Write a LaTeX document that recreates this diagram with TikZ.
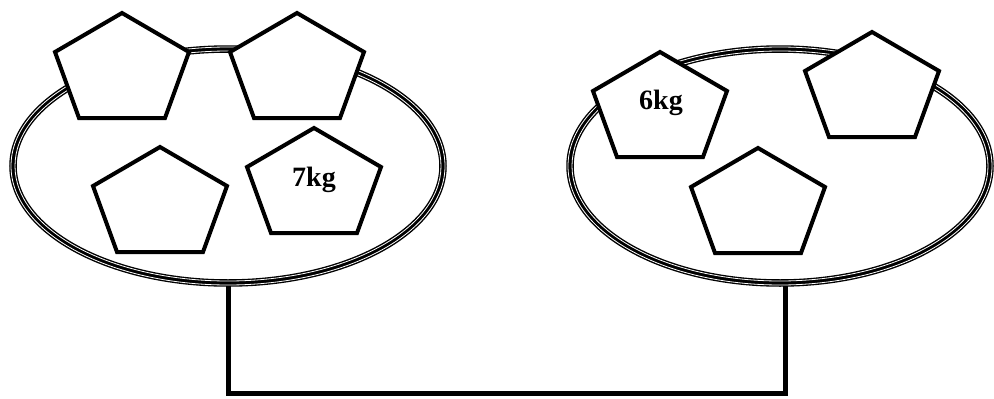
\documentclass[tikz,border=0pt]{standalone}
\usepackage{fontspec}
\setmainfont{Liberation Serif}
\begin{document}
\begin{tikzpicture}[x=1pt,y=-1pt,
  panline/.style={line width=7.5pt,draw=black},
  pangap/.style={line width=0.8pt,draw=white},
  pent/.style={line width=4pt,draw=black,fill=white,line join=miter},
  weight/.style={font=\fontsize{28}{30}\selectfont\bfseries,inner sep=0pt},
  stem/.style={line width=5pt,draw=black,line cap=rect},
  pentagon/.pic={\draw[pent] (0,0) -- (67,39) -- (43,105) -- (-43,105) -- (-67,39) -- cycle;}
]
\useasboundingbox (0,0) rectangle (994,399);
\coordinate (lc) at (228,166);
\coordinate (rc) at (780,166);
% beam under the pans
\coordinate (lb) at (228,393);
\coordinate (rb) at (785,393);
\coordinate (lt) at (228,282);
\coordinate (rt) at (785,282);
\draw[stem] (lt) -- (lb) -- (rb) -- (rt);
% left pan
\draw[panline] (lc) ellipse [x radius=215, y radius=117];
\draw[pangap] (lc) ellipse [x radius=213, y radius=115];
\draw[pangap] (lc) ellipse [x radius=217, y radius=119];
% right pan
\draw[panline] (rc) ellipse [x radius=210, y radius=117];
\draw[pangap] (rc) ellipse [x radius=208, y radius=115];
\draw[pangap] (rc) ellipse [x radius=212, y radius=119];
% weights on the left pan
\pic at (122,13) {pentagon};
\pic at (297,13) {pentagon};
\pic at (160,147) {pentagon};
\pic at (314,128) {pentagon};
\node[weight] (seven) at (314,180) {7kg};
% weights on the right pan
\pic at (660,52) {pentagon};
\pic at (872,32) {pentagon};
\pic at (758,148) {pentagon};
\node[weight] (six) at (661,103) {6kg};
\end{tikzpicture}
\end{document}
